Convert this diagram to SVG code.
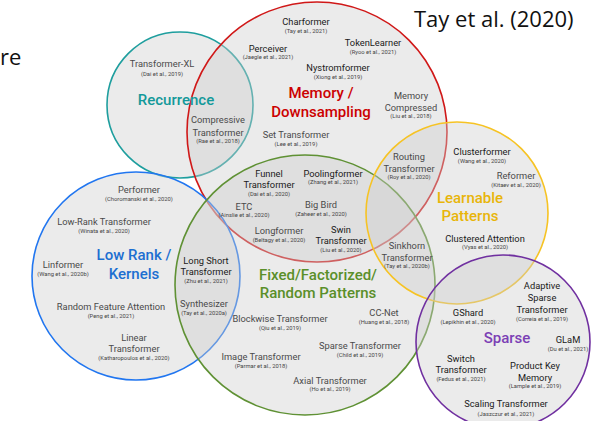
<svg xmlns="http://www.w3.org/2000/svg" width="600" height="421" viewBox="0 0 600 421">
<style>
.set{fill:#cccccc;fill-opacity:0.4;stroke-width:1.6}
text{font-family:Roboto,"Liberation Sans",sans-serif;text-anchor:middle}
.n{font-size:9.3px;fill:#4a4a4a}
.k{font-size:9.3px;fill:#1a1a1a}
.c{font-size:5.8px;fill:#444}
.h{font-size:15px;font-weight:500}
.big{font-family:"Open Sans","Liberation Sans",sans-serif;font-size:22px;fill:#111;text-anchor:start}
</style>
<rect width="600" height="421" fill="#ffffff"/>
<text class="big" x="0" y="65">re</text>
<text class="big" x="414" y="27">Tay et al. (2020)</text>

<g id="sets">
<circle id="recurrence-circle" class="set" cx="180" cy="105" r="73" stroke="#1e9e9e"/>
<circle id="memory-circle" class="set" cx="317" cy="132" r="130" stroke="#d01818"/>
<circle id="lowrank-circle" class="set" cx="136" cy="276" r="104" stroke="#2176f0"/>
<circle id="fixed-circle" class="set" cx="305" cy="285" r="130" stroke="#5f9134"/>
<circle id="learnable-circle" class="set" cx="457" cy="213" r="91" stroke="#f6c324"/>
<circle id="sparse-circle" class="set" cx="503" cy="342" r="87" stroke="#7030a0"/>
</g>

<g id="headings">
<text class="h" x="176" y="105" fill="#13999a">Recurrence</text>
<text class="h" x="321" y="98" fill="#cc0000">Memory /</text>
<text class="h" x="321" y="117" fill="#cc0000">Downsampling</text>
<text class="h" x="470" y="203" fill="#e8b50a">Learnable</text>
<text class="h" x="470" y="221" fill="#e8b50a">Patterns</text>
<text class="h" x="134" y="260" fill="#1c6fd1">Low Rank /</text>
<text class="h" x="134" y="279" fill="#1c6fd1">Kernels</text>
<text class="h" x="318" y="280" fill="#5a8f29">Fixed/Factorized/</text>
<text class="h" x="318" y="298" fill="#5a8f29">Random Patterns</text>
<text class="h" x="507" y="343" fill="#7b3fb5">Sparse</text>
</g>

<g id="transformer-xl"><text class="n" x="162" y="67">Transformer-XL</text><text class="c" x="162" y="76">(Dai et al., 2019)</text></g>
<g id="charformer"><text class="k" x="306" y="25">Charformer</text><text class="c" x="306" y="33">(Tay et al., 2021)</text></g>
<g id="perceiver"><text class="k" x="268" y="52">Perceiver</text><text class="c" x="268" y="59">(Jaegle et al., 2021)</text></g>
<g id="tokenlearner"><text class="k" x="373" y="46">TokenLearner</text><text class="c" x="373" y="54">(Ryoo et al., 2021)</text></g>
<g id="nystromformer"><text class="k" x="338" y="71">Nystromformer</text><text class="c" x="338" y="79">(Xiong et al., 2019)</text></g>
<g id="memory-compressed"><text class="n" x="411" y="99">Memory</text><text class="n" x="411" y="111">Compressed</text><text class="c" x="411" y="118">(Liu et al., 2018)</text></g>
<g id="compressive"><text class="n" x="218" y="123">Compressive</text><text class="n" x="218" y="136">Transformer</text><text class="c" x="218" y="143">(Rae et al., 2018)</text></g>
<g id="set-transformer"><text class="n" x="296" y="138">Set Transformer</text><text class="c" x="296" y="146">(Lee et al., 2019)</text></g>

<g id="performer"><text class="n" x="139" y="193">Performer</text><text class="c" x="139" y="201">(Choromanski et al., 2020)</text></g>
<g id="low-rank-transformer"><text class="n" x="104" y="225">Low-Rank Transformer</text><text class="c" x="104" y="233">(Winata et al., 2020)</text></g>
<g id="linformer"><text class="n" x="63" y="268">Linformer</text><text class="c" x="63" y="276">(Wang et al., 2020b)</text></g>
<g id="random-feature-attention"><text class="n" x="111" y="310">Random Feature Attention</text><text class="c" x="111" y="318">(Peng et al., 2021)</text></g>
<g id="linear-transformer"><text class="n" x="134" y="341">Linear</text><text class="n" x="134" y="352">Transformer</text><text class="c" x="134" y="360">(Katharopoulos et al., 2020)</text></g>
<g id="long-short"><text class="k" x="206" y="264">Long Short</text><text class="k" x="206" y="275">Transformer</text><text class="c" x="206" y="283">(Zhu et al., 2021)</text></g>
<g id="synthesizer"><text class="n" x="204" y="307">Synthesizer</text><text class="c" x="204" y="315">(Tay et al., 2020a)</text></g>

<g id="funnel"><text class="k" x="269" y="177">Funnel</text><text class="k" x="269" y="188">Transformer</text><text class="c" x="269" y="196">(Dai et al., 2020)</text></g>
<g id="poolingformer"><text class="k" x="333" y="177">Poolingformer</text><text class="c" x="333" y="184">(Zhang et al., 2021)</text></g>
<g id="etc"><text class="n" x="244" y="210">ETC</text><text class="c" x="244" y="217">(Ainslie et al., 2020)</text></g>
<g id="big-bird"><text class="n" x="321" y="208">Big Bird</text><text class="c" x="321" y="216">(Zaheer et al., 2020)</text></g>
<g id="longformer"><text class="n" x="279" y="234">Longformer</text><text class="c" x="279" y="242">(Beltagy et al., 2020)</text></g>
<g id="swin"><text class="k" x="341" y="233">Swin</text><text class="k" x="341" y="244">Transformer</text><text class="c" x="341" y="252">(Liu et al., 2020)</text></g>

<g id="blockwise"><text class="n" x="280" y="322">Blockwise Transformer</text><text class="c" x="280" y="330">(Qiu et al., 2019)</text></g>
<g id="cc-net"><text class="n" x="384" y="316">CC-Net</text><text class="c" x="384" y="324">(Huang et al., 2018)</text></g>
<g id="sparse-transformer"><text class="n" x="360" y="349">Sparse Transformer</text><text class="c" x="360" y="357">(Child et al., 2019)</text></g>
<g id="image-transformer"><text class="n" x="261" y="360">Image Transformer</text><text class="c" x="261" y="368">(Parmar et al., 2018)</text></g>
<g id="axial-transformer"><text class="n" x="330" y="384">Axial Transformer</text><text class="c" x="330" y="391">(Ho et al., 2019)</text></g>

<g id="routing"><text class="n" x="409" y="160">Routing</text><text class="n" x="409" y="172">Transformer</text><text class="c" x="409" y="179">(Roy et al., 2020)</text></g>
<g id="clusterformer"><text class="k" x="482" y="155">Clusterformer</text><text class="c" x="482" y="163">(Wang et al., 2020)</text></g>
<g id="reformer"><text class="n" x="516" y="179">Reformer</text><text class="c" x="516" y="187">(Kitaev et al., 2020)</text></g>
<g id="clustered-attention"><text class="k" x="485" y="242">Clustered Attention</text><text class="c" x="485" y="249">(Vyas et al., 2020)</text></g>
<g id="sinkhorn"><text class="n" x="407" y="249">Sinkhorn</text><text class="n" x="407" y="261">Transformer</text><text class="c" x="407" y="268">(Tay et al., 2020b)</text></g>

<g id="adaptive-sparse"><text class="k" x="542" y="289">Adaptive</text><text class="k" x="542" y="301">Sparse</text><text class="k" x="542" y="313">Transformer</text><text class="c" x="542" y="321">(Correia et al., 2019)</text></g>
<g id="gshard"><text class="k" x="468" y="316">GShard</text><text class="c" x="468" y="324">(Lepikhin et al., 2020)</text></g>
<g id="glam"><text class="k" x="568" y="343">GLaM</text><text class="c" x="568" y="351">(Du et al., 2021)</text></g>
<g id="switch"><text class="k" x="461" y="362">Switch</text><text class="k" x="461" y="373">Transformer</text><text class="c" x="461" y="381">(Fedus et al., 2021)</text></g>
<g id="product-key"><text class="k" x="535" y="369">Product Key</text><text class="k" x="535" y="381">Memory</text><text class="c" x="535" y="388">(Lample et al., 2019)</text></g>
<g id="scaling"><text class="k" x="506" y="407">Scaling Transformer</text><text class="c" x="506" y="416">(Jaszczur et al., 2021)</text></g>

<g id="connectors"></g>
</svg>
